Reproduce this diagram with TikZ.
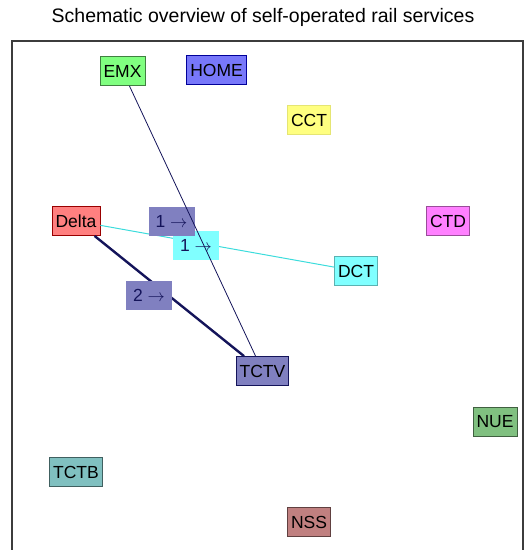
\documentclass[tikz,border=0pt]{standalone}
\usepackage{fontspec}
\setmainfont{Liberation Sans}
\usepackage{tikz}
\usetikzlibrary{positioning}
\definecolor{emxGreen}{RGB}{128,255,128}
\definecolor{homeBlue}{RGB}{120,120,250}
\definecolor{cctYellow}{RGB}{255,255,128}
\definecolor{ctdPink}{RGB}{255,128,255}
\definecolor{dctCyan}{RGB}{128,255,255}
\definecolor{deltaRed}{RGB}{255,128,128}
\definecolor{slate}{RGB}{128,128,192}
\definecolor{nueGreen}{RGB}{128,192,128}
\definecolor{tctbTeal}{RGB}{128,192,192}
\definecolor{nssRed}{RGB}{192,128,128}
\definecolor{navyLine}{RGB}{20,20,90}
\definecolor{cyanLine}{RGB}{60,220,220}
\definecolor{frameGray}{RGB}{60,60,60}

\begin{document}
\begin{tikzpicture}[x=1pt,y=-1pt,line width=.8pt,
  every node/.style={font=\fontsize{17.5}{19}\selectfont}]
\tikzstyle{station}=[draw,minimum height=29pt,inner xsep=3.5pt,inner ysep=0pt]
\tikzstyle{flow}=[minimum height=29pt,minimum width=46pt,inner sep=2pt,text=navyLine]
\useasboundingbox (0,0) rectangle (525,550);

\node[font=\fontsize{19.5}{21}\selectfont] (title) at (263,17) {Schematic overview of self-operated rail services};
\draw[frameGray,line width=1.5pt] (12,552) -- (12,41) -- (523,41) -- (523,552);

% stations
\node[station, fill=emxGreen, draw=emxGreen!50!black] (emx) at (122.5,71) {EMX};
\node[station, fill=homeBlue, draw=blue!60!black] (home) at (216.5,70) {HOME};
\node[station, fill=cctYellow, draw=cctYellow!90!black] (cct) at (309,120) {CCT};
\node[station, fill=ctdPink, draw=ctdPink!60!black] (ctd) at (448,221) {CTD};
\node[station, fill=dctCyan, draw=dctCyan!70!black] (dct) at (356,271) {DCT};
\node[station, fill=deltaRed, draw=red!60!black] (delta) at (76,221) {Delta};
\node[station, fill=slate, draw=navyLine] (tctv) at (262.5,371) {TCTV};
\node[station, fill=nueGreen, draw=nueGreen!50!black] (nue) at (495,422) {NUE};
\node[station, fill=tctbTeal, draw=tctbTeal!50!black] (tctb) at (76,472) {TCTB};
\node[station, fill=nssRed, draw=nssRed!50!black] (nss) at (309,522) {NSS};

% services
\draw[navyLine,line width=2.4pt] (delta) -- (tctv);
\node[flow, fill=slate] (twoflow) at (149,295) {2 $\rightarrow$};
\draw[cyanLine,line width=1pt] (delta) -- (dct);
\node[flow, fill=dctCyan] (cyanflow) at (196,245) {1 $\rightarrow$};
\node[flow, fill=slate] (oneflow) at (171.5,221) {1 $\rightarrow$};
\draw[navyLine,line width=.8pt] (emx) -- (tctv);

\end{tikzpicture}
\end{document}
